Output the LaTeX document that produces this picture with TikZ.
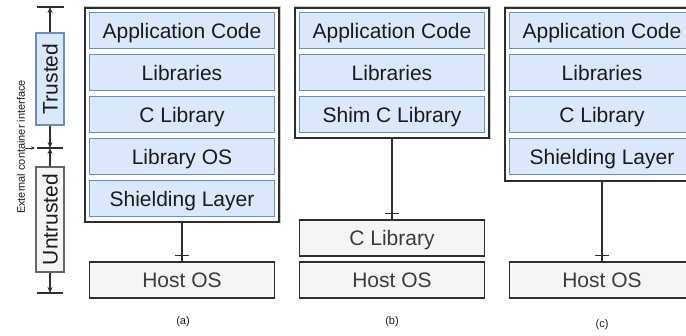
\documentclass[tikz,border=0pt]{standalone}
\usepackage{fontspec}
\setmainfont{Liberation Sans}
\usetikzlibrary{arrows.meta,calc}
\definecolor{layerfill}{HTML}{DAE8FC}
\definecolor{layerdraw}{HTML}{6C8EBF}
\definecolor{hostfill}{HTML}{F5F5F5}
\definecolor{ink}{HTML}{1A1A1A}
\definecolor{frame}{HTML}{2E2E2E}
\tikzset{
  bigtext/.style={font=\fontsize{21}{24}\selectfont, text height=15pt, text depth=0pt},
  layer/.style={bigtext, draw=layerdraw, fill=layerfill, line width=1pt, text=ink,
    minimum width=185pt, minimum height=36pt, inner sep=0pt},
  hostbox/.style={bigtext, draw=frame, fill=hostfill, line width=1.4pt, text=ink!85,
    minimum width=185pt, minimum height=36pt, inner sep=0pt},
  container/.style={preaction={draw=gray!45, line width=3pt},
    draw=frame, fill=white, line width=1.4pt,
    minimum width=194pt, inner sep=0pt},
  link/.style={draw=frame, line width=1.3pt},
  sidearrow/.style={draw=frame, line width=1.2pt, -{Stealth[length=6pt,width=5pt]}},
  sidebox/.style={bigtext, rotate=90, minimum height=28pt, inner sep=0pt, line width=1.3pt,
    text=ink},
  caption/.style={text=ink, font=\fontsize{11}{13}\selectfont},
}
\begin{document}
\begin{tikzpicture}[x=1pt,y=-1pt]
\useasboundingbox (0,0) rectangle (686,336);
\clip (0,0) rectangle (686,336);

% ---- trust scale on the left ----
\coordinate (topbar) at (50,7);
\coordinate (midbar) at (50,148);
\coordinate (botbar) at (50,293);
\coordinate (extstart) at (25,148);
\node[sidebox, draw=layerdraw, fill=layerfill, minimum width=92pt] (trusted) at (50,79) {Trusted};
\node[sidebox, draw=gray!80!black, fill=hostfill, minimum width=105pt] (untrusted) at (50,219.5) {Untrusted};
\draw[sidearrow] (trusted.east) -- (topbar);
\draw[sidearrow] (trusted.west) -- (midbar);
\draw[sidearrow] (untrusted.east) -- (midbar);
\draw[sidearrow] (untrusted.west) -- (botbar);
\draw[link] ([xshift=-13pt]topbar) -- ([xshift=14pt]topbar);
\draw[link] ([xshift=-13pt]midbar) -- ([xshift=13pt]midbar);
\draw[link] ([xshift=-13pt]botbar) -- ([xshift=13pt]botbar);
\draw[draw=frame, line width=0.9pt, -{Stealth[length=4pt,width=3.5pt]}] (extstart) -- ([xshift=-15pt]midbar);
\node[caption, rotate=90] (extlabel) at (21,147) {External container interface};

% ---- (a) library OS with shielding layer ----
\node[container, minimum height=214pt] (contA) at (182,115) {};
\node[layer] (appA)    at (182,31)  {Application Code};
\node[layer] (libsA)   at (182,73)  {Libraries};
\node[layer] (clibA)   at (182,115) {C Library};
\node[layer] (libosA)  at (182,157) {Library OS};
\node[layer] (shieldA) at (182,199) {Shielding Layer};
\node[hostbox] (hostA) at (182,280) {Host OS};
\draw[link] (contA.south) -- (hostA.north);
\draw[link] ([shift={(-7pt,6pt)}]hostA.north) -- ++(14,0);
\node[caption] (capA) at (183,322) {(a)};

% ---- (b) shim C library over host C library ----
\node[container, minimum height=130pt] (contB) at (392,73) {};
\node[layer] (appB)  at (392,31)  {Application Code};
\node[layer] (libsB) at (392,73)  {Libraries};
\node[layer] (shimB) at (392,115) {Shim C Library};
\node[hostbox] (clibB) at (392,238) {C Library};
\node[hostbox] (hostB) at (392,280) {Host OS};
\draw[link] (contB.south) -- (clibB.north);
\draw[link] ([shift={(-7pt,6pt)}]clibB.north) -- ++(14,0);
\node[caption] (capB) at (392,322) {(b)};

% ---- (c) C library with shielding layer ----
\node[container, minimum height=173pt] (contC) at (602,94.5) {};
\node[layer] (appC)    at (602,31)  {Application Code};
\node[layer] (libsC)   at (602,73)  {Libraries};
\node[layer] (clibC)   at (602,115) {C Library};
\node[layer] (shieldC) at (602,157) {Shielding Layer};
\node[hostbox] (hostC) at (602,280) {Host OS};
\draw[link] (contC.south) -- (hostC.north);
\draw[link] ([shift={(-7pt,6pt)}]hostC.north) -- ++(14,0);
\node[caption] (capC) at (602,325) {(c)};
\end{tikzpicture}
\end{document}
